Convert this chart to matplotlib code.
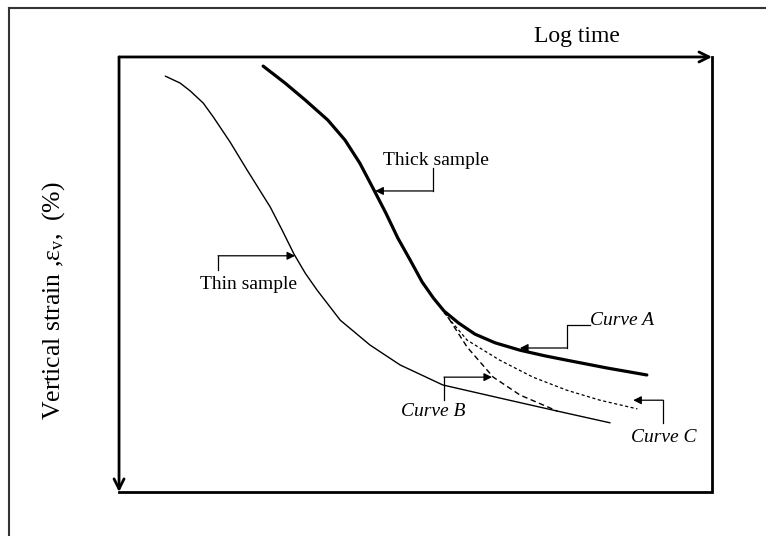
import numpy as np
import matplotlib
matplotlib.use("Agg")
import matplotlib.pyplot as plt
from matplotlib.lines import Line2D

plt.rcParams['font.family'] = ['Liberation Serif', 'DejaVu Serif']
plt.rcParams['mathtext.fontset'] = 'custom'
plt.rcParams['mathtext.rm'] = 'Liberation Serif'
plt.rcParams['mathtext.it'] = 'Liberation Serif:italic'

# log time (0..1 across the box) and vertical strain (0..1, growing downwards)
thin_t = [0.078, 0.103, 0.120, 0.142, 0.159, 0.187, 0.216, 0.255, 0.275,
          0.295, 0.314, 0.334, 0.373, 0.423, 0.474, 0.546, 0.642, 0.739, 0.828]
thin_eps = [0.044, 0.060, 0.078, 0.106, 0.138, 0.195, 0.260, 0.345, 0.398,
            0.453, 0.497, 0.536, 0.605, 0.662, 0.708, 0.754, 0.784, 0.814, 0.841]

thick_t = [0.243, 0.280, 0.314, 0.352, 0.381, 0.406, 0.428, 0.450, 0.470,
           0.491, 0.511, 0.530, 0.548, 0.572, 0.600, 0.634, 0.676, 0.718,
           0.755, 0.823, 0.890]
thick_eps = [0.021, 0.060, 0.099, 0.145, 0.191, 0.244, 0.301, 0.359, 0.416,
             0.467, 0.517, 0.554, 0.584, 0.611, 0.637, 0.657, 0.674, 0.687,
             0.697, 0.715, 0.731]

curve_b_t = [0.548, 0.587, 0.631, 0.676, 0.739]
curve_b_eps = [0.584, 0.667, 0.736, 0.777, 0.814]

curve_c_t = [0.548, 0.587, 0.642, 0.698, 0.755, 0.811, 0.874]
curve_c_eps = [0.588, 0.651, 0.697, 0.736, 0.766, 0.789, 0.809]

# label text, text position, leader path (last point = arrow tip)
labels = ["Thick sample", "Thin sample", "Curve A", "Curve B", "Curve C"]
label_pos = [(0.445, 0.239), (0.218, 0.522), (0.794, 0.605), (0.530, 0.816), (0.919, 0.874)]
label_style = ["normal", "normal", "italic", "italic", "italic"]
label_ha = ["left", "center", "left", "center", "center"]
leaders = [
    [(0.529, 0.255), (0.529, 0.308), (0.432, 0.308)],
    [(0.167, 0.490), (0.167, 0.457), (0.297, 0.457)],
    [(0.794, 0.616), (0.755, 0.616), (0.755, 0.669), (0.676, 0.669)],
    [(0.548, 0.789), (0.548, 0.736), (0.629, 0.736)],
    [(0.917, 0.841), (0.917, 0.789), (0.867, 0.789)],
]

fig = plt.figure(figsize=(7.66, 5.36), dpi=100)
ax = fig.add_axes([0.1554, 0.0821, 0.7742, 0.8116])
ax.set_xlim(0, 1)
ax.set_ylim(1, 0)
ax.set_xticks([])
ax.set_yticks([])
for side in ax.spines.values():
    side.set_visible(False)

# box: arrows along top (log time) and left (strain), plain right and bottom
arrow_kw = dict(arrowstyle='->', lw=2, color='black', shrinkA=0, shrinkB=0,
                mutation_scale=18)
ax.annotate('', xy=(1.0, 0.0), xytext=(0.0, 0.0), arrowprops=arrow_kw,
            annotation_clip=False)
ax.annotate('', xy=(0.0, 1.0), xytext=(0.0, 0.0), arrowprops=arrow_kw,
            annotation_clip=False)
ax.plot([1, 1, 0], [0, 1, 1], color='black', lw=2, clip_on=False,
        solid_joinstyle='miter')

line_kw = dict(color='black', solid_joinstyle='round', solid_capstyle='round')
ax.plot(thin_t, thin_eps, lw=1.0, **line_kw)
ax.plot(thick_t, thick_eps, lw=2.3, **line_kw)
ax.plot(curve_b_t, curve_b_eps, color='black', lw=1.0, dashes=(4, 2.5))
ax.plot(curve_c_t, curve_c_eps, color='black', lw=0.9, dashes=(2.5, 2))

for text, pos, style, ha, path in zip(labels, label_pos, label_style, label_ha, leaders):
    ax.text(pos[0], pos[1], text, fontsize=14, style=style, ha=ha, va='center')
    xs = [p[0] for p in path]
    ys = [p[1] for p in path]
    ax.plot(xs[:-1], ys[:-1], color='black', lw=0.9)
    ax.annotate('', xy=path[-1], xytext=path[-2],
                arrowprops=dict(arrowstyle='-|>', lw=0.9, color='black',
                                shrinkA=0, shrinkB=0, mutation_scale=12))

ax.text(0.772, -0.046, "Log time", fontsize=17, ha='center', va='center',
        clip_on=False)
ax.text(-0.110, 0.56, r"Vertical strain ,$\mathrm{\varepsilon_v}$,  (%)",
        fontsize=18.5, rotation=90, ha='center', va='center', clip_on=False)

# page frame edges (top and left)
fig.add_artist(Line2D([0.0117, 1.0], [0.985, 0.985], color='#333333', lw=1.5))
fig.add_artist(Line2D([0.0117, 0.0117], [0.0, 0.985], color='#333333', lw=1.5))

fig.savefig("out.png", dpi=100)
